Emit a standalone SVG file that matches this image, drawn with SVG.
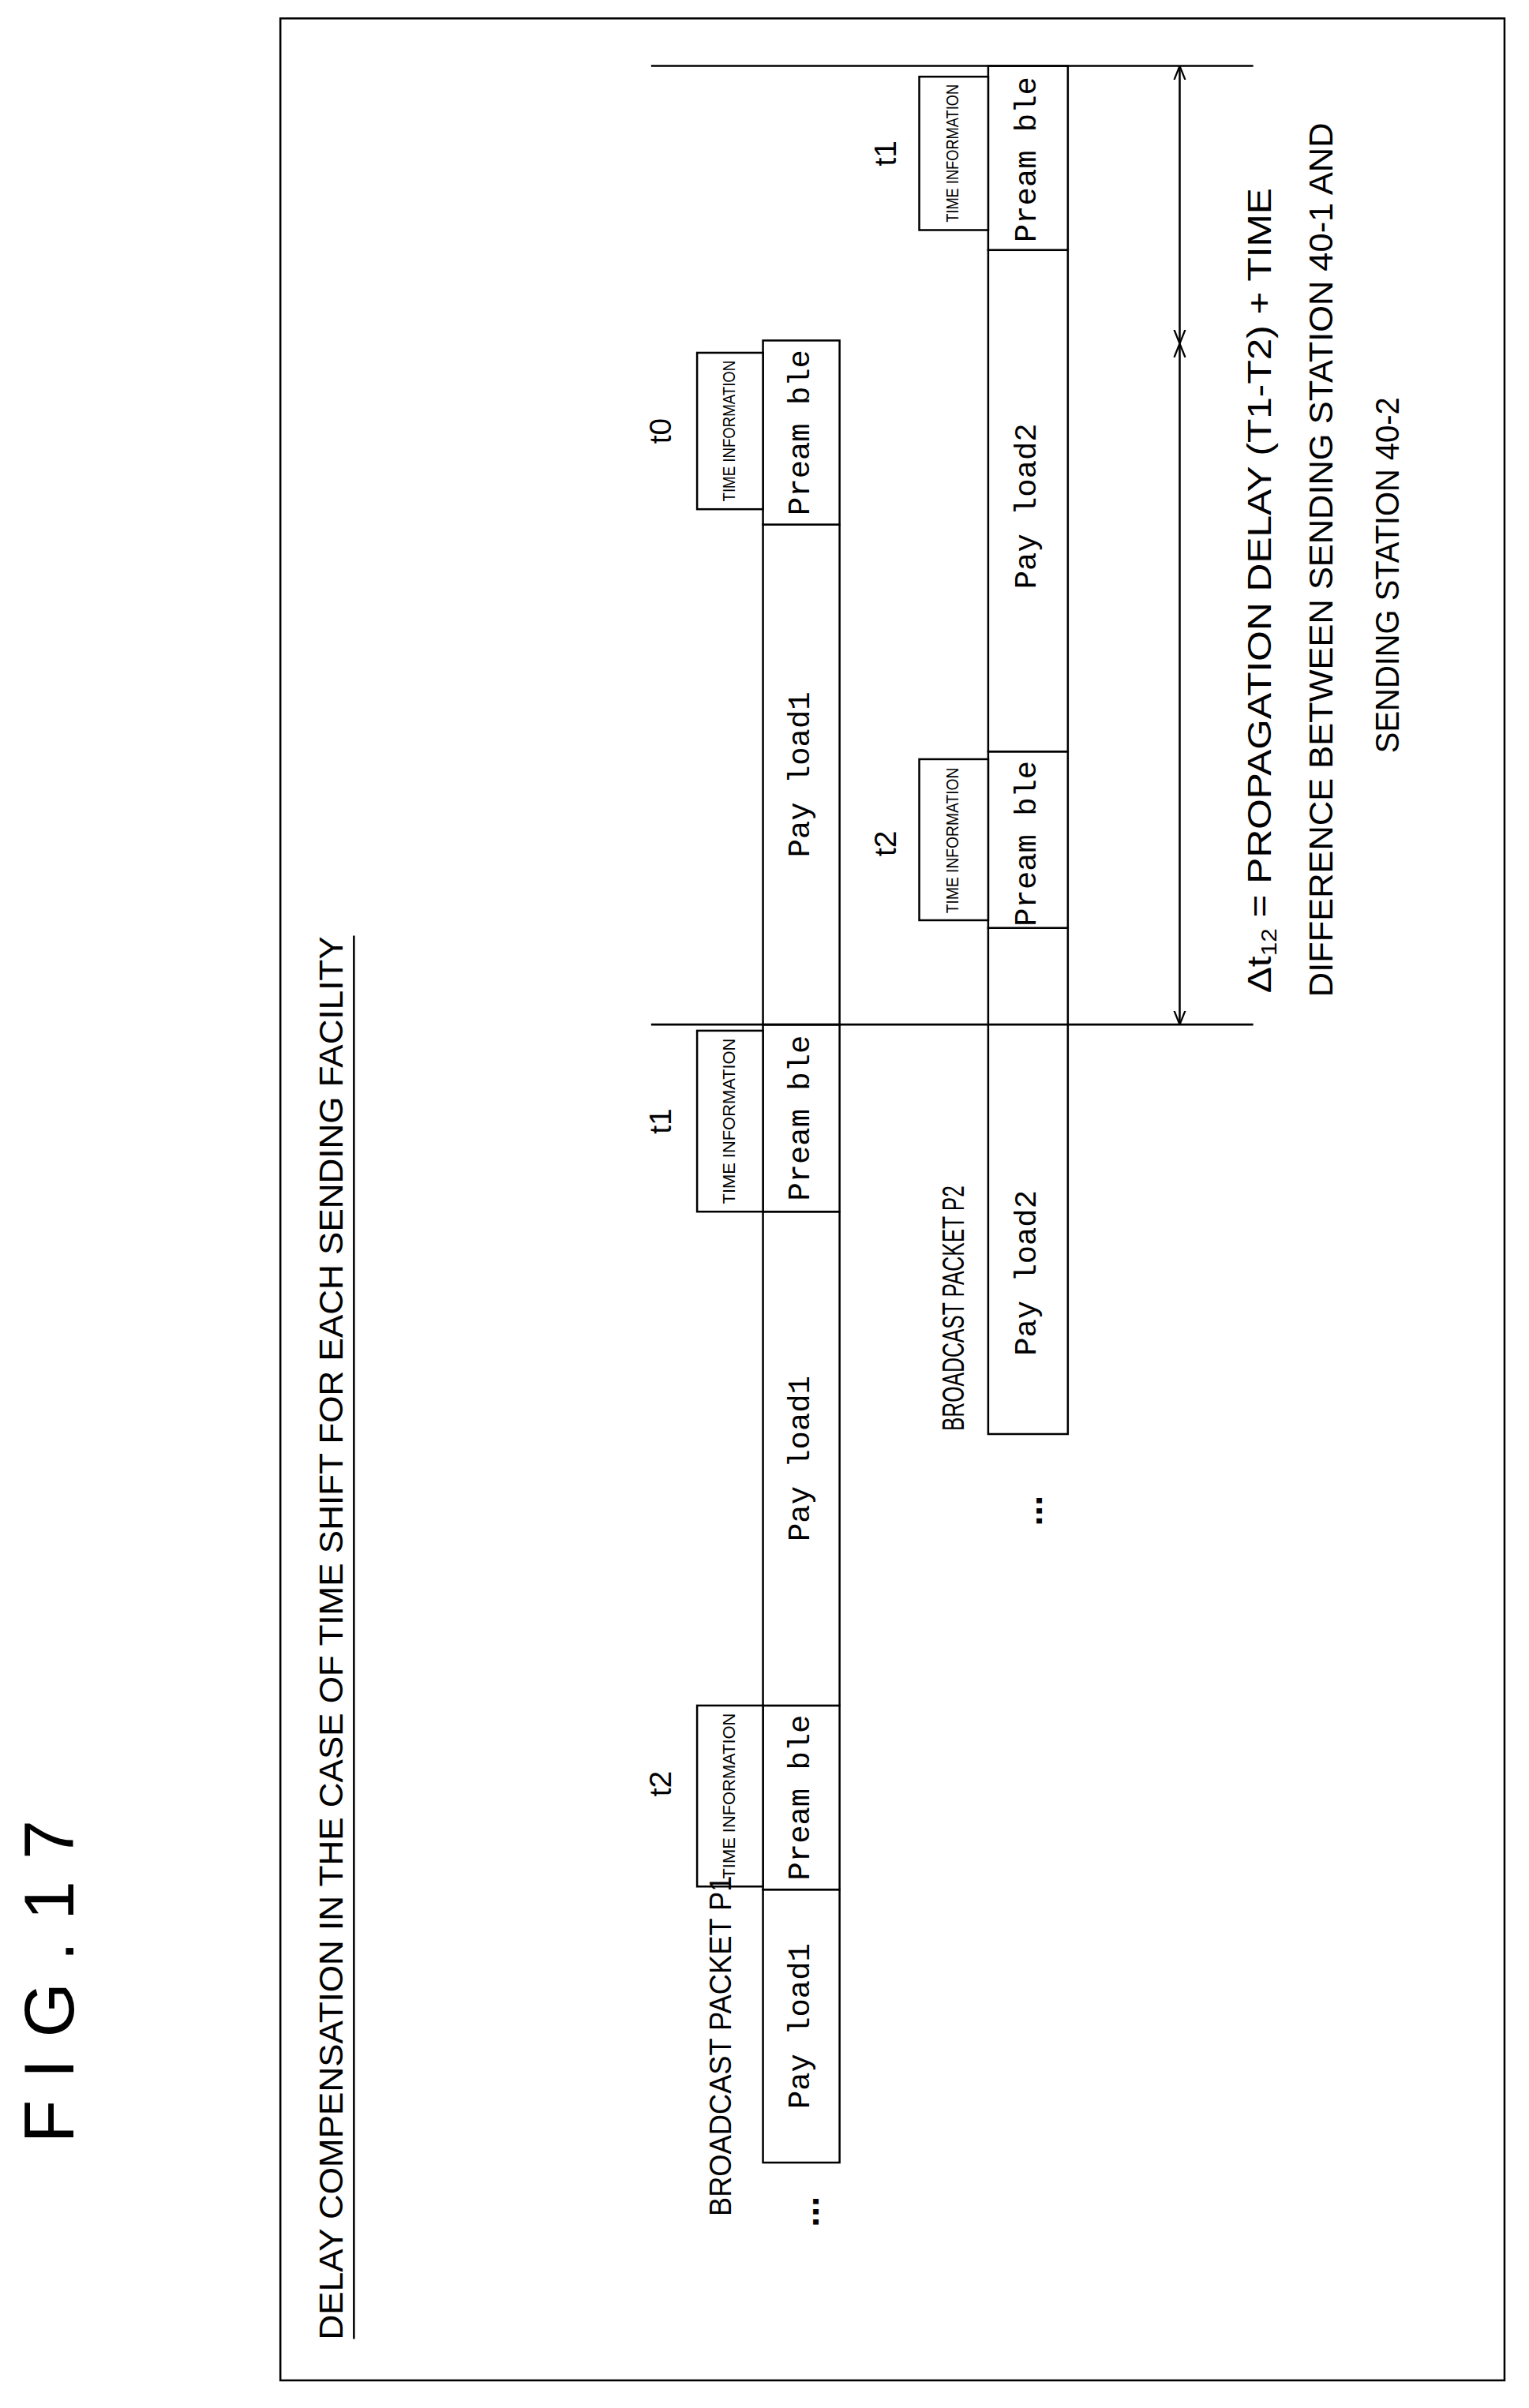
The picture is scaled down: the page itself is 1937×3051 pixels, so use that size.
<svg xmlns="http://www.w3.org/2000/svg" width="1937" height="3051" viewBox="0 0 1937 3051">
<style>
.b{fill:#fff;stroke:#000;stroke-width:1.3}
.l{stroke:#000;stroke-width:1.3;fill:none}
.c{font-family:"Liberation Sans",sans-serif;dominant-baseline:central;text-anchor:middle}
.m{font-family:"Liberation Mono",monospace;font-size:20px;dominant-baseline:central;text-anchor:middle}
.ti{font-family:"Liberation Sans",sans-serif;font-size:11px;dominant-baseline:central;text-anchor:middle}
</style>
<defs>
<marker id="a" viewBox="0 0 10 10" refX="10" refY="5" markerWidth="9" markerHeight="9" orient="auto-start-reverse" markerUnits="userSpaceOnUse"><path d="M0,1 L10,5 L0,9" fill="none" stroke="#000" stroke-width="1.3"/></marker>
</defs>
<rect width="1937" height="3051" fill="#fff"/>
<g transform="scale(1.9409,1.9433)">
<g id="fig"><text class="c" font-size="46" letter-spacing="14" transform="translate(32,1285) rotate(-90)">FIG.17</text></g>
<rect id="frame" class="l" x="183" y="12" width="799" height="1540"/>
<g id="title"><text class="c" font-size="22" textLength="915" lengthAdjust="spacingAndGlyphs" transform="translate(216,1068) rotate(-90)">DELAY COMPENSATION IN THE CASE OF TIME SHIFT FOR EACH SENDING FACILITY</text>
<line class="l" x1="231" y1="610" x2="231" y2="1525"/></g>
<g id="row1">
<rect class="b" x="498" y="1232" width="50" height="178"/><text class="m" transform="translate(523,1321) rotate(-90)">Pay load1</text>
<rect class="b" x="498" y="1112" width="50" height="120"/><text class="m" transform="translate(523,1172) rotate(-90)">Pream ble</text>
<rect class="b" x="498" y="790" width="50" height="322"/><text class="m" transform="translate(523,951) rotate(-90)">Pay load1</text>
<rect class="b" x="498" y="668" width="50" height="122"/><text class="m" transform="translate(523,729) rotate(-90)">Pream ble</text>
<rect class="b" x="498" y="342" width="50" height="326"/><text class="m" transform="translate(523,505) rotate(-90)">Pay load1</text>
<rect class="b" x="498" y="222" width="50" height="120"/><text class="m" transform="translate(523,282) rotate(-90)">Pream ble</text>
<text class="c" font-size="24" font-weight="bold" transform="translate(526,1442) rotate(-90)">...</text>
</g>
<g id="time1">
<rect class="b" x="455" y="1112" width="43" height="118"/><text class="ti" textLength="108" lengthAdjust="spacingAndGlyphs" transform="translate(476,1171) rotate(-90)">TIME INFORMATION</text>
<text class="c" font-size="20" transform="translate(431,1163) rotate(-90)">t2</text>
<rect class="b" x="455" y="672" width="43" height="118"/><text class="ti" textLength="108" lengthAdjust="spacingAndGlyphs" transform="translate(476,731) rotate(-90)">TIME INFORMATION</text>
<text class="c" font-size="20" transform="translate(431,731) rotate(-90)">t1</text>
<rect class="b" x="455" y="230" width="43" height="102"/><text class="ti" textLength="92" lengthAdjust="spacingAndGlyphs" transform="translate(476,281) rotate(-90)">TIME INFORMATION</text>
<text class="c" font-size="20" transform="translate(431,281) rotate(-90)">t0</text>
<text class="c" font-size="20" textLength="222" lengthAdjust="spacingAndGlyphs" transform="translate(470,1334) rotate(-90)">BROADCAST PACKET P1</text>
</g>
<g id="row2">
<rect class="b" x="645" y="605" width="52" height="330"/><text class="m" transform="translate(671,830) rotate(-90)">Pay load2</text>
<rect class="b" x="645" y="490" width="52" height="115"/><text class="m" transform="translate(671,550) rotate(-90)">Pream ble</text>
<rect class="b" x="645" y="163" width="52" height="327"/><text class="m" transform="translate(671,330) rotate(-90)">Pay load2</text>
<rect class="b" x="645" y="43" width="52" height="120"/><text class="m" transform="translate(671,104) rotate(-90)">Pream ble</text>
<text class="c" font-size="20" textLength="160" lengthAdjust="spacingAndGlyphs" transform="translate(622,853) rotate(-90)">BROADCAST PACKET P2</text>
<text class="c" font-size="24" font-weight="bold" transform="translate(672,985) rotate(-90)">...</text>
<rect class="b" x="600" y="495" width="45" height="105"/><text class="ti" textLength="95" lengthAdjust="spacingAndGlyphs" transform="translate(622,548) rotate(-90)">TIME INFORMATION</text>
<text class="c" font-size="20" transform="translate(578,550) rotate(-90)">t2</text>
<rect class="b" x="600" y="50" width="45" height="100"/><text class="ti" textLength="90" lengthAdjust="spacingAndGlyphs" transform="translate(622,100) rotate(-90)">TIME INFORMATION</text>
<text class="c" font-size="20" transform="translate(578,100) rotate(-90)">t1</text>
</g>
<g id="connectors">
<line class="l" x1="425" y1="43" x2="818" y2="43"/>
<line class="l" x1="425" y1="668" x2="818" y2="668"/>
<line class="l" x1="770" y1="43" x2="770" y2="224" marker-start="url(#a)" marker-end="url(#a)"/>
<line class="l" x1="770" y1="224" x2="770" y2="668" marker-start="url(#a)" marker-end="url(#a)"/>
</g>
<g id="label">
<text class="c" font-size="22" textLength="525" lengthAdjust="spacingAndGlyphs" transform="translate(822,385) rotate(-90)">Δt<tspan font-size="14" dy="6">12</tspan><tspan dy="-6"> = PROPAGATION DELAY (T1-T2) + TIME</tspan></text>
<text class="c" font-size="22" textLength="570" lengthAdjust="spacingAndGlyphs" transform="translate(862,365) rotate(-90)">DIFFERENCE BETWEEN SENDING STATION 40-1 AND</text>
<text class="c" font-size="22" textLength="232" lengthAdjust="spacingAndGlyphs" transform="translate(905,375) rotate(-90)">SENDING STATION 40-2</text>
</g>
</g>
</svg>
